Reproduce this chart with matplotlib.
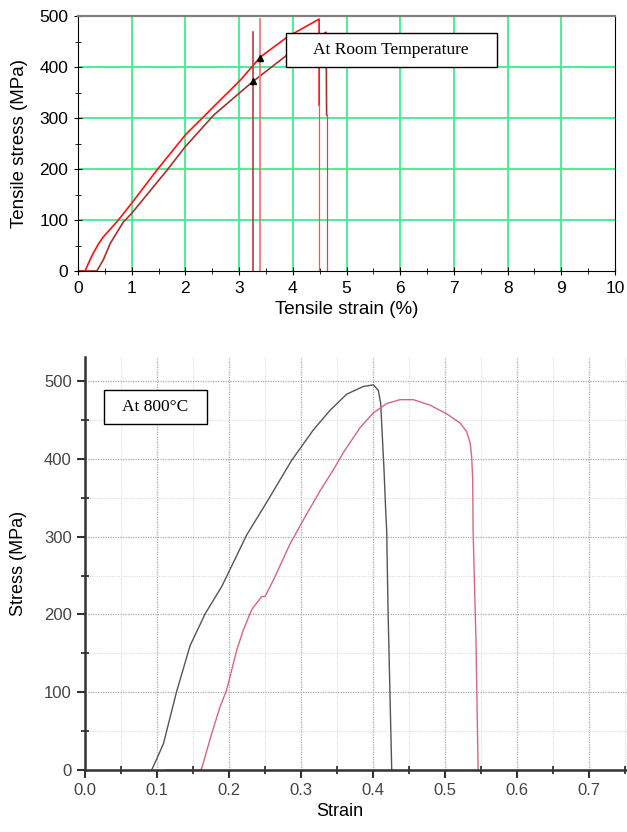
import matplotlib
matplotlib.use('Agg')
import matplotlib.pyplot as plt
from matplotlib.patches import Rectangle
from matplotlib.ticker import MultipleLocator

# room temperature test (strain %, stress MPa)
red_strain = [0, 0.13, 0.224, 0.285, 0.38, 0.472, 0.60, 0.72, 0.85, 1.0, 1.47, 2.0, 2.59, 3.03,
              3.40, 3.90, 4.49, 4.49]
red_stress = [0, 0, 22, 35, 53, 67, 82, 96, 113, 133, 198, 267, 329, 375,
              420, 459, 494, 325]
dred_strain = [0, 0.35, 0.472, 0.60, 0.75, 0.845, 1.0, 1.66, 2.0, 2.53, 3.25, 3.9, 4.3, 4.62, 4.63]
dred_stress = [0, 0, 22, 54, 80, 96, 113, 198, 244, 306, 371, 424, 449, 468, 306]
red_break = [4.48, 325]
dred_break = [4.63, 306]
red_marker = [3.38, 494, 418]
dred_marker = [3.25, 469, 373]

# 800 C test (strain, stress MPa)
blk_strain = [0.0926, 0.100, 0.109, 0.127, 0.146, 0.167, 0.190, 0.2245, 0.2523, 0.287, 0.3171,
              0.340, 0.3634, 0.3866, 0.4005, 0.4074, 0.4107, 0.413, 0.4153, 0.4176, 0.419,
              0.421, 0.426]
blk_stress = [0, 15, 34, 100, 160, 201, 236, 302, 344, 398, 437,
              462, 483, 493, 495, 488, 471, 428, 386, 334, 308,
              201, 0]
pink_strain = [0.113, 0.160, 0.162, 0.176, 0.1875, 0.1968, 0.2107, 0.2199, 0.2315,
               0.2361, 0.238, 0.2454, 0.25, 0.2616, 0.285, 0.306, 0.326, 0.345, 0.3588,
               0.382, 0.4005, 0.419, 0.4375, 0.456, 0.479, 0.502, 0.521, 0.530, 0.535,
               0.537, 0.5385, 0.539, 0.543, 0.546]
pink_stress = [0, 0, 2, 47, 81, 103, 154, 180, 206,
               212, 214, 223, 223, 244, 291, 326, 358, 386, 408,
               440, 459, 471, 476, 476, 469, 458, 446, 435, 420,
               403, 373, 308, 167, 0]

plt.rcParams['font.family'] = ['Liberation Sans', 'DejaVu Sans']
fig = plt.figure(figsize=(6.27, 8.32), dpi=100)

# ---- top panel ----
ax1 = fig.add_axes([78/627, 1 - 271/832, 537/627, 255/832])
green = '#3cee8c'
for gx in range(1, 10):
    ax1.axvline(gx, color=green, lw=1.3, zorder=0)
for gy in range(100, 500, 100):
    ax1.axhline(gy, color=green, lw=1.3, zorder=0)

ax1.plot(red_strain, red_stress, color='#ff1010', lw=1.2)
ax1.plot(dred_strain, dred_stress, color='#a8302c', lw=1.2)
ax1.plot([red_break[0]] * 2, [0, red_break[1]], color='#ff5050', lw=0.9)
ax1.plot([dred_break[0]] * 2, [0, dred_break[1]], color='#c05050', lw=0.9)
ax1.plot([red_marker[0]] * 2, [0, red_marker[1]], color='#f07070', lw=1.2)
ax1.plot([dred_marker[0]] * 2, [0, dred_marker[1]], color='#b04040', lw=1.2)
ax1.plot([red_marker[0], dred_marker[0]], [red_marker[2], dred_marker[2]], ls='none',
         marker='^', ms=4.5, color='black')

ax1.set_xlim(0, 10)
ax1.set_ylim(0, 500)
ax1.xaxis.set_major_locator(MultipleLocator(1))
ax1.xaxis.set_minor_locator(MultipleLocator(0.5))
ax1.yaxis.set_major_locator(MultipleLocator(100))
ax1.yaxis.set_minor_locator(MultipleLocator(50))
ax1.tick_params(which='major', direction='inout', length=6, labelsize=12.5, pad=4)
ax1.tick_params(which='minor', direction='inout', length=5)
ax1.spines['top'].set_color('#808080')
ax1.spines['top'].set_linewidth(1.6)
ax1.set_xlabel('Tensile strain (%)', fontsize=13.5, labelpad=4)
ax1.set_ylabel('Tensile stress (MPa)', fontsize=13.5, labelpad=8)

ax1.add_patch(Rectangle((0.387, 0.799), 0.393, 0.136, transform=ax1.transAxes,
                        facecolor='white', edgecolor='black', lw=1.0, zorder=5))
ax1.text(0.583, 0.867, 'At Room Temperature', transform=ax1.transAxes, ha='center',
         va='center', fontsize=12.5, family=['Liberation Serif', 'DejaVu Serif'], zorder=6)

# ---- bottom panel ----
ax2 = fig.add_axes([85/627, 1 - 770/832, 542/627, 413/832])
ax2.plot(blk_strain, blk_stress, color='#555555', lw=1.0)
ax2.plot(pink_strain, pink_stress, color='#d8657e', lw=1.0)

ax2.set_xlim(0, 542/720)
ax2.set_ylim(0, 413/0.778)
ax2.xaxis.set_major_locator(MultipleLocator(0.1))
ax2.xaxis.set_minor_locator(MultipleLocator(0.05))
ax2.yaxis.set_major_locator(MultipleLocator(100))
ax2.yaxis.set_minor_locator(MultipleLocator(50))
ax2.grid(which='major', color='#a8a8a8', lw=0.9, ls=(0, (1, 1)))
ax2.grid(which='minor', color='#dddddd', lw=0.8, ls=(0, (1, 1)))
ax2.set_axisbelow(True)
for s in ['top', 'right']:
    ax2.spines[s].set_visible(False)
for s in ['left', 'bottom']:
    ax2.spines[s].set_color('#333333')
    ax2.spines[s].set_linewidth(1.8)
ax2.tick_params(which='major', direction='out', length=6, width=1.5, color='#333333',
                labelsize=12, labelcolor='#444444')
ax2.tick_params(which='minor', direction='inout', length=6, width=1.3, color='#333333')
ax2.set_xlabel('Strain', fontsize=13, labelpad=6)
ax2.xaxis.set_label_coords(0.47, -0.08)
ax2.set_ylabel('Stress (MPa)', fontsize=13, labelpad=12)

ax2.add_patch(Rectangle((0.035, 0.838), 0.19, 0.082, transform=ax2.transAxes,
                        facecolor='white', edgecolor='black', lw=1.0, zorder=5))
ax2.text(0.13, 0.879, 'At 800°C', transform=ax2.transAxes, ha='center', va='center',
         fontsize=12.5, family=['Liberation Serif', 'DejaVu Serif'], zorder=6)

fig.savefig('out.png', dpi=100)
